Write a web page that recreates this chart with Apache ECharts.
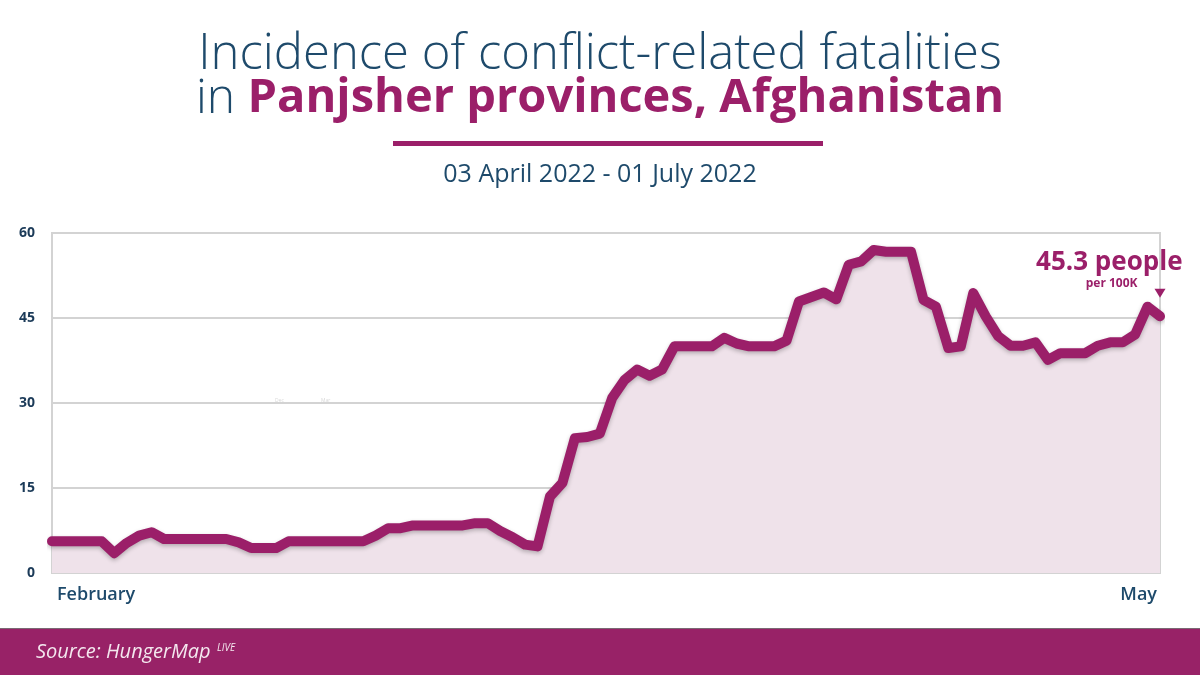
<!DOCTYPE html>
<html>
<head>
<meta charset="utf-8">
<script src="https://cdn.jsdelivr.net/npm/echarts@6/dist/echarts.min.js"></script>
<style>
  html, body { margin: 0; padding: 0; background: #fff; }
  #main { width: 1200px; height: 675px; }
</style>
</head>
<body>
<div id="main"></div>
<script>
// 每日数据 03 Apr 2022 - 01 Jul 2022, per 100K
const fatalities = [
  5.6, 5.6, 5.6, 5.6, 5.6, 3.5, 5.3, 6.6, 7.2, 6.0,
  6.0, 6.0, 6.0, 6.0, 6.0, 5.4, 4.4, 4.4, 4.4, 5.6,
  5.6, 5.6, 5.6, 5.6, 5.6, 5.6, 6.6, 7.9, 7.9, 8.4,
  8.4, 8.4, 8.4, 8.4, 8.8, 8.8, 7.4, 6.3, 5.0, 4.7,
  13.5, 15.9, 23.8, 24.0, 24.6, 30.9, 34.1, 35.9, 34.8, 35.9,
  40.0, 40.0, 40.0, 40.0, 41.5, 40.5, 40.0, 40.0, 40.0, 41.0,
  47.9, 48.7, 49.5, 48.3, 54.4, 55.0, 57.0, 56.7, 56.7, 56.7,
  48.2, 47.0, 39.7, 40.0, 49.4, 45.3, 41.8, 40.1, 40.1, 40.7,
  37.6, 38.8, 38.8, 38.8, 40.1, 40.7, 40.7, 42.1, 47.0, 45.3
]
const yTicks = [0, 15, 30, 45, 60]
const monthLabels = ['February', 'May']
const lastLabel = '45.3 people'
const lastUnit = 'per 100K'

// 日期类目
const dates = []
const start = new Date(Date.UTC(2022, 3, 3))
for (let i = 0; i < fatalities.length; i++) {
  const d = new Date(start.getTime() + i * 86400000)
  dates.push(d.toISOString().slice(0, 10))
}
const lastIdx = fatalities.length - 1

const navy = '#1e4a6b'
const plum = '#9b1f69'
const font = 'Open Sans'

const myChart = echarts.init(document.getElementById('main'))

const option = {
  backgroundColor: '#ffffff',
  textStyle: { fontFamily: font },
  title: [
    {
      text: 'Incidence of conflict-related fatalities',
      left: 'center',
      top: 26,
      textStyle: { fontSize: 49, fontWeight: 300, color: navy, fontFamily: font }
    },
    {
      text: '{n|in }{b|Panjsher provinces, Afghanistan}',
      left: 'center',
      top: 70,
      textStyle: {
        rich: {
          n: { fontSize: 48, fontWeight: 300, color: navy, fontFamily: font },
          b: { fontSize: 47, fontWeight: 700, color: plum, fontFamily: font }
        }
      }
    },
    {
      text: '03 April 2022 - 01 July 2022',
      left: 'center',
      top: 157,
      textStyle: { fontSize: 25, fontWeight: 400, color: navy, fontFamily: font }
    }
  ],
  graphic: [
    { type: 'rect', shape: { x: 393, y: 141, width: 430, height: 5 }, style: { fill: plum } },
    { type: 'rect', shape: { x: 0, y: 629, width: 1200, height: 46 }, style: { fill: '#982267' } },
    { type: 'rect', shape: { x: 0, y: 628, width: 1200, height: 1 }, style: { fill: '#7a6a74' } },
    {
      type: 'text', left: 36, top: 642,
      style: { text: 'Source: HungerMap', fill: '#f4e8ef', fontSize: 20, fontStyle: 'italic', fontFamily: font }
    },
    {
      type: 'text', left: 217, top: 643,
      style: { text: 'LIVE', fill: '#f4e8ef', fontSize: 10, fontStyle: 'italic', fontFamily: font }
    },
    {
      type: 'text', left: 275, top: 398,
      style: { text: 'Dec', fill: '#d8d8d8', fontSize: 5, fontFamily: font }
    },
    {
      type: 'text', left: 321, top: 398,
      style: { text: 'Mar', fill: '#d8d8d8', fontSize: 5, fontFamily: font }
    }
  ],
  grid: {
    left: 52,
    right: 40,
    top: 233,
    bottom: 102,
    show: true,
    backgroundColor: '#ffffff',
    borderColor: '#d3d3d3',
    borderWidth: 2
  },
  xAxis: {
    type: 'category',
    data: dates,
    boundaryGap: false,
    axisLine: { show: false },
    axisTick: { show: false },
    axisLabel: {
      interval: 0,
      margin: 13,
      color: navy,
      fontSize: 18,
      fontWeight: 600,
      fontFamily: font,
      alignMinLabel: 'left',
      alignMaxLabel: 'right',
      formatter: (v, i) => i === 0 ? '{l|' + monthLabels[0] + '}' : (i === lastIdx ? '{r|' + monthLabels[1] + '}' : ''),
      rich: {
        l: { color: navy, fontSize: 18, fontWeight: 600, fontFamily: font, padding: [0, 0, 0, 5] },
        r: { color: navy, fontSize: 18, fontWeight: 600, fontFamily: font, padding: [0, 3, 0, 0] }
      }
    }
  },
  yAxis: {
    type: 'value',
    min: yTicks[0],
    max: yTicks[yTicks.length - 1],
    interval: 15,
    axisLine: { show: false },
    axisTick: { show: false },
    axisLabel: {
      margin: 17,
      color: '#1b3a58',
      fontSize: 14,
      fontWeight: 700,
      fontFamily: font
    },
    splitLine: { lineStyle: { color: '#d3d3d3', width: 2 } }
  },
  series: [
    {
      type: 'line',
      data: fatalities,
      symbol: 'none',
      smooth: false,
      lineStyle: {
        color: plum,
        width: 10,
        cap: 'round',
        join: 'round',
        shadowBlur: 4,
        shadowColor: 'rgba(0, 0, 0, 0.25)',
        shadowOffsetY: 2
      },
      areaStyle: { color: '#efe2ea', opacity: 1 },
      markPoint: {
        silent: true,
        symbol: 'triangle',
        symbolRotate: 180,
        symbolSize: [11, 9],
        symbolOffset: [0, -23],
        itemStyle: { color: plum },
        data: [{ coord: [lastIdx, fatalities[lastIdx]], value: fatalities[lastIdx] }],
        label: {
          show: true,
          position: [28, 2],
          align: 'right',
          verticalAlign: 'bottom',
          formatter: '{a|' + lastLabel + '}\n{b|' + lastUnit + '}',
          rich: {
            a: { fontSize: 26, fontWeight: 700, color: plum, fontFamily: font, lineHeight: 28, align: 'right' },
            b: { fontSize: 12, fontWeight: 700, color: plum, fontFamily: font, lineHeight: 14, align: 'right', padding: [0, 45, 0, 0] }
          }
        }
      }
    }
  ]
}

myChart.setOption(option)
</script>
</body>
</html>
